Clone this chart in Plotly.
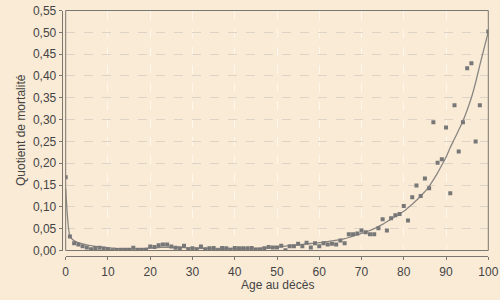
import plotly.graph_objects as go

# Observed mortality quotients by age (age 99 not shown in the reference)
ages = list(range(0, 101))
observed = [
    0.168, 0.032, 0.0165, 0.014, 0.010, 0.007, 0.003, 0.006, 0.0065, 0.004,
    0.003, 0.0, 0.001, 0.0015, 0.0015, 0.0015, 0.0065, 0.0015, 0.0015, 0.0015,
    0.009, 0.008, 0.012, 0.014, 0.014, 0.009, 0.0065, 0.005, 0.011, 0.003,
    0.005, 0.003, 0.009, 0.003, 0.005, 0.006, 0.0, 0.006, 0.005, 0.0015,
    0.006, 0.005, 0.005, 0.005, 0.006, 0.0015, 0.0015, 0.005, 0.008, 0.007,
    0.007, 0.011, 0.0005, 0.0095, 0.0095, 0.0157, 0.0095, 0.018, 0.007, 0.0165,
    0.010, 0.0165, 0.014, 0.0157, 0.014, 0.023, 0.0165, 0.037, 0.037, 0.039,
    0.046, 0.042, 0.037, 0.037, 0.051, 0.0715, 0.046, 0.074, 0.081, 0.0836,
    0.102, 0.069, 0.122, 0.149, 0.125, 0.165, 0.1425, 0.294, 0.201, 0.209,
    0.282, 0.131, 0.333, 0.227, 0.294, 0.4175, 0.429, 0.250, 0.333, None,
    0.502,
]
# Smoothed (fitted) quotient by age
smoothed = [
    0.142, 0.033, 0.022, 0.018, 0.015, 0.013, 0.011, 0.0095, 0.0087, 0.0075,
    0.0065, 0.0055, 0.0048, 0.0042, 0.0038, 0.0036, 0.0036, 0.0038, 0.0042, 0.0048,
    0.0055, 0.0062, 0.0068, 0.0072, 0.0074, 0.0074, 0.0072, 0.0068, 0.0064, 0.006,
    0.0056, 0.0053, 0.005, 0.0048, 0.0047, 0.0046, 0.0046, 0.0046, 0.0046, 0.0046,
    0.0047, 0.0048, 0.0049, 0.005, 0.0052, 0.0054, 0.0057, 0.006, 0.0065, 0.007,
    0.0078, 0.0088, 0.0098, 0.011, 0.012, 0.013, 0.014, 0.015, 0.016, 0.017,
    0.018, 0.019, 0.0205, 0.022, 0.0235, 0.025, 0.027, 0.030, 0.033, 0.036,
    0.039, 0.042, 0.046, 0.050, 0.055, 0.060, 0.066, 0.072, 0.078, 0.084,
    0.090, 0.098, 0.106, 0.115, 0.125, 0.135, 0.147, 0.162, 0.178, 0.196,
    0.214, 0.236, 0.256, 0.276, 0.297, 0.322, 0.350, 0.385, 0.425, 0.463,
    0.501,
]
x_ticks = list(range(0, 101, 10))
y_ticks = [i * 0.05 for i in range(12)]

BG = "#FAEBD7"
TXT = "#444444"
AX = "#7a7670"
FONT = "Liberation Sans, Arial, sans-serif"

W, H = 500, 300
x0, x1 = 65.7, 488.3
yt, yb = 10.5, 250.5

fig = go.Figure()
fig.add_trace(go.Scatter(
    x=ages, y=smoothed, mode="lines",
    line=dict(color="#8a8782", width=1.3, shape="spline", smoothing=0.6),
    hoverinfo="skip", showlegend=False,
))
fig.add_trace(go.Scatter(
    x=ages, y=observed, mode="markers",
    marker=dict(symbol="square", size=4, color="#777777", line=dict(width=0)),
    showlegend=False,
))

fig.update_layout(
    width=W, height=H, autosize=False,
    margin=dict(l=0, r=0, t=0, b=0, pad=0, autoexpand=False),
    paper_bgcolor=BG, plot_bgcolor=BG,
    separators=",.",
    font=dict(family=FONT, size=12, color=TXT),
    xaxis=dict(
        domain=[x0 / W, x1 / W], range=[0, 100], automargin=False,
        tickvals=x_ticks, ticks="outside", ticklen=3, tickcolor=AX,
        ticklabelstandoff=2,
        showline=True, linecolor=AX, linewidth=1,
        anchor="free", position=1 - 255.7 / H,
        showgrid=True, gridcolor="#FFF6EC", griddash="dash", gridwidth=1,
        zeroline=False, tickfont=dict(size=12, color=TXT),
    ),
    yaxis=dict(
        domain=[1 - yb / H, 1 - yt / H], range=[0, 0.55], automargin=False,
        tickvals=y_ticks, tickformat=".2f", ticks="outside", ticklen=3, tickcolor=AX,
        showline=True, linecolor=AX, linewidth=1,
        anchor="free", position=61.7 / W,
        showgrid=True, gridcolor="#DDD3C6", griddash="dash", gridwidth=1,
        zeroline=False, tickfont=dict(size=12, color=TXT),
    ),
    shapes=[dict(
        type="rect", xref="x domain", yref="y domain", x0=0, x1=1, y0=0, y1=1,
        line=dict(color=AX, width=1), layer="above",
    )],
    annotations=[
        dict(text="Age au décès", xref="paper", yref="paper",
             x=(x0 + x1) / 2 / W, y=1 - 285 / H, showarrow=False,
             xanchor="center", yanchor="middle", font=dict(size=12, color=TXT)),
        dict(text="Quotient de mortalité", xref="paper", yref="paper",
             x=20.5 / W, y=1 - (yt + yb) / 2 / H, showarrow=False, textangle=-90,
             xanchor="center", yanchor="middle", font=dict(size=12, color=TXT)),
    ],
)

fig.write_html("out.html")
